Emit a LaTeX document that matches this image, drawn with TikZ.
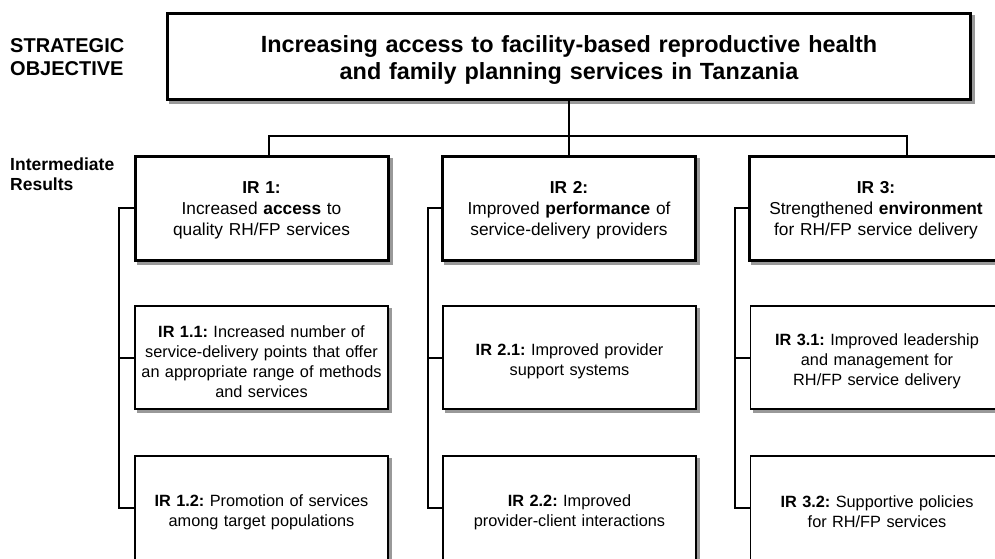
\documentclass[tikz,border=0pt]{standalone}
\usepackage{fontspec}
\setmainfont{Liberation Sans}
\usetikzlibrary{shadows}
\frenchspacing
\begin{document}
\begin{tikzpicture}[x=1pt,y=-1pt,
  shadowed/.style={drop shadow={shadow xshift=3pt,shadow yshift=-3pt,fill=black!40,draw=black!40,opacity=1}},
  objbox/.style={draw,line width=3pt,fill=white,shadowed,minimum width=803pt,minimum height=86pt,inner sep=0pt,align=center,text width=790pt,font=\bfseries\fontsize{23.4}{27}\selectfont,execute at begin node={\rule{0pt}{23pt}}},
  irbox/.style={draw,line width=3pt,fill=white,shadowed,minimum width=253pt,minimum height=104pt,inner sep=0pt,align=center,text width=245pt,font=\fontsize{17.3}{21}\selectfont,execute at begin node={\rule{0pt}{17.5pt}}},
  subbox/.style={draw,line width=1.8pt,fill=white,shadowed,minimum width=253pt,minimum height=103pt,inner sep=0pt,align=center,text width=245pt,font=\fontsize{16.3}{20}\selectfont,execute at begin node={\rule{0pt}{20pt}}},
  sidelabel/.style={anchor=west,align=left,inner sep=0pt},
  conn/.style={line width=2pt}]
\clip (0,0) rectangle (995,559);
\fill[white] (0,0) rectangle (995,559);

\node[sidelabel,font=\bfseries\fontsize{20}{23}\selectfont] (lso) at (10,57) {STRATEGIC\\OBJECTIVE};
\node[sidelabel,font=\bfseries\fontsize{17.5}{20}\selectfont] (lir) at (10,174) {Intermediate\\Results};

\node[objbox] (so) at (569,57) {Increasing access to facility-based reproductive health\\and family planning services in Tanzania};

\node[irbox] (ir1) at (261.5,208) {\textbf{IR 1:}\\Increased \textbf{access} to\\quality RH/FP services};
\node[irbox] (ir2) at (569,208) {\textbf{IR 2:}\\Improved \textbf{performance} of\\service-delivery providers};
\node[irbox] (ir3) at (876,208) {\textbf{IR 3:}\\Strengthened \textbf{environment}\\for RH/FP service delivery};

\node[subbox] (ir11) at (261.5,357.5) {\textbf{IR 1.1:} Increased number of\\service-delivery points that offer\\an appropriate range of methods\\and services};
\node[subbox] (ir21) at (569.5,357.5) {\textbf{IR 2.1:} Improved provider\\support systems};
\node[subbox] (ir31) at (877,357.5) {\textbf{IR 3.1:} Improved leadership\\and management for\\RH/FP service delivery};

\node[subbox,minimum height=104pt] (ir12) at (261.5,508) {\textbf{IR 1.2:} Promotion of services\\among target populations};
\node[subbox,minimum height=104pt] (ir22) at (569.5,508) {\textbf{IR 2.2:} Improved\\provider-client interactions};
\node[subbox,minimum height=104pt] (ir32) at (877,508) {\textbf{IR 3.2:} Supportive policies\\for RH/FP services};

\draw[conn] (so.south) -- (ir2.north);
\draw[conn] ([xshift=7.5pt]ir1.north) -- ++(0,-19) -| ([xshift=31pt]ir3.north);

\draw[conn] (ir1.west) -- ++(-15,0) |- (ir12.west);
\draw[conn] (ir11.west) -- ++(-15,0);
\draw[conn] (ir2.west) -- ++(-13,0) |- (ir22.west);
\draw[conn] (ir21.west) -- ++(-14,0);
\draw[conn] (ir3.west) -- ++(-13,0) |- (ir32.west);
\draw[conn] (ir31.west) -- ++(-15,0);
\end{tikzpicture}
\end{document}
